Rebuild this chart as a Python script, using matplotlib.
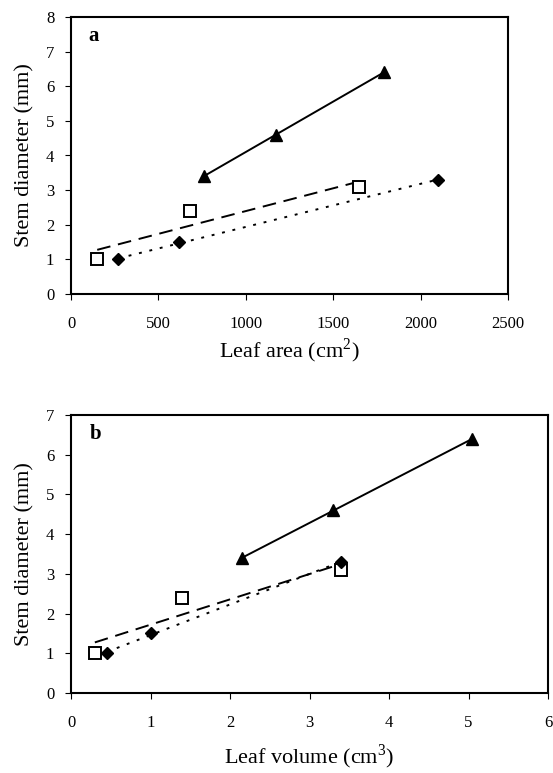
import numpy as np
import matplotlib.pyplot as plt

plt.rcParams['font.family'] = ['Liberation Serif', 'DejaVu Serif']
plt.rcParams['mathtext.fontset'] = 'custom'
plt.rcParams['mathtext.rm'] = 'Liberation Serif'

# panel a: leaf area (cm2) vs stem diameter (mm)
area_tri = [760, 1170, 1790]
diam_tri = [3.4, 4.6, 6.4]
area_sq = [150, 680, 1650]
diam_sq = [1.0, 2.4, 3.1]
area_dia = [270, 620, 2100]
diam_dia = [1.0, 1.5, 3.3]

# panel b: leaf volume (cm3) vs stem diameter (mm)
vol_tri = [2.15, 3.3, 5.05]
vol_sq = [0.3, 1.4, 3.4]
vol_dia = [0.45, 1.0, 3.4]


def trend(ax, x, y, ls, dashes=None):
    # linear regression line over the data range
    x = np.asarray(x, float)
    k, b = np.polyfit(x, y, 1)
    xs = np.array([x.min(), x.max()])
    line, = ax.plot(xs, k * xs + b, color='black', ls=ls, lw=1.4)
    if dashes is not None:
        line.set_dashes(dashes)


def panel(ax, xt, label, xtri, xsq, xdia, xlim, xticks, ylim, yticks, labelpad):
    trend(ax, xtri, diam_tri, '-')
    trend(ax, xsq, diam_sq, '--', (7, 4))
    trend(ax, xdia, diam_dia, ':', (1.5, 4))
    ax.plot(xtri, diam_tri, '^', color='black', ms=9, ls='none')
    ax.plot(xsq, diam_sq, 's', mfc='white', mec='black', mew=1.4, ms=8, ls='none')
    ax.plot(xdia, diam_dia, 'D', color='black', ms=6.5, ls='none')
    ax.set_xlim(*xlim)
    ax.set_ylim(*ylim)
    ax.set_xticks(xticks)
    ax.set_yticks(yticks)
    ax.tick_params(labelsize=12, length=4, width=0.8, direction='out')
    ax.tick_params(axis='x', pad=12)
    ax.tick_params(axis='y', pad=8)
    for s in ax.spines.values():
        s.set_linewidth(1.5)
    ax.set_xlabel(xt, fontsize=16, labelpad=labelpad)
    ax.set_ylabel('Stem diameter (mm)', fontsize=16, labelpad=8)
    ax.text(0.04, 0.93, label, transform=ax.transAxes, fontsize=15,
            fontweight='bold', va='center', ha='left')


fig = plt.figure(figsize=(5.53, 7.73), dpi=100)
ax1 = fig.add_axes([71 / 553, 1 - 294 / 773, 437 / 553, 277 / 773])
ax2 = fig.add_axes([71 / 553, 1 - 693 / 773, 477 / 553, 278 / 773])

panel(ax1, r'Leaf area (cm$^{\mathrm{2}}$)', 'a', area_tri, area_sq, area_dia,
      (0, 2500), [0, 500, 1000, 1500, 2000, 2500], (0, 8), range(0, 9), 3)
panel(ax2, r'Leaf volume (cm$^{\mathrm{3}}$)', 'b', vol_tri, vol_sq, vol_dia,
      (0, 6), range(0, 7), (0, 7), range(0, 8), 8)

fig.savefig('out.png', dpi=100)
